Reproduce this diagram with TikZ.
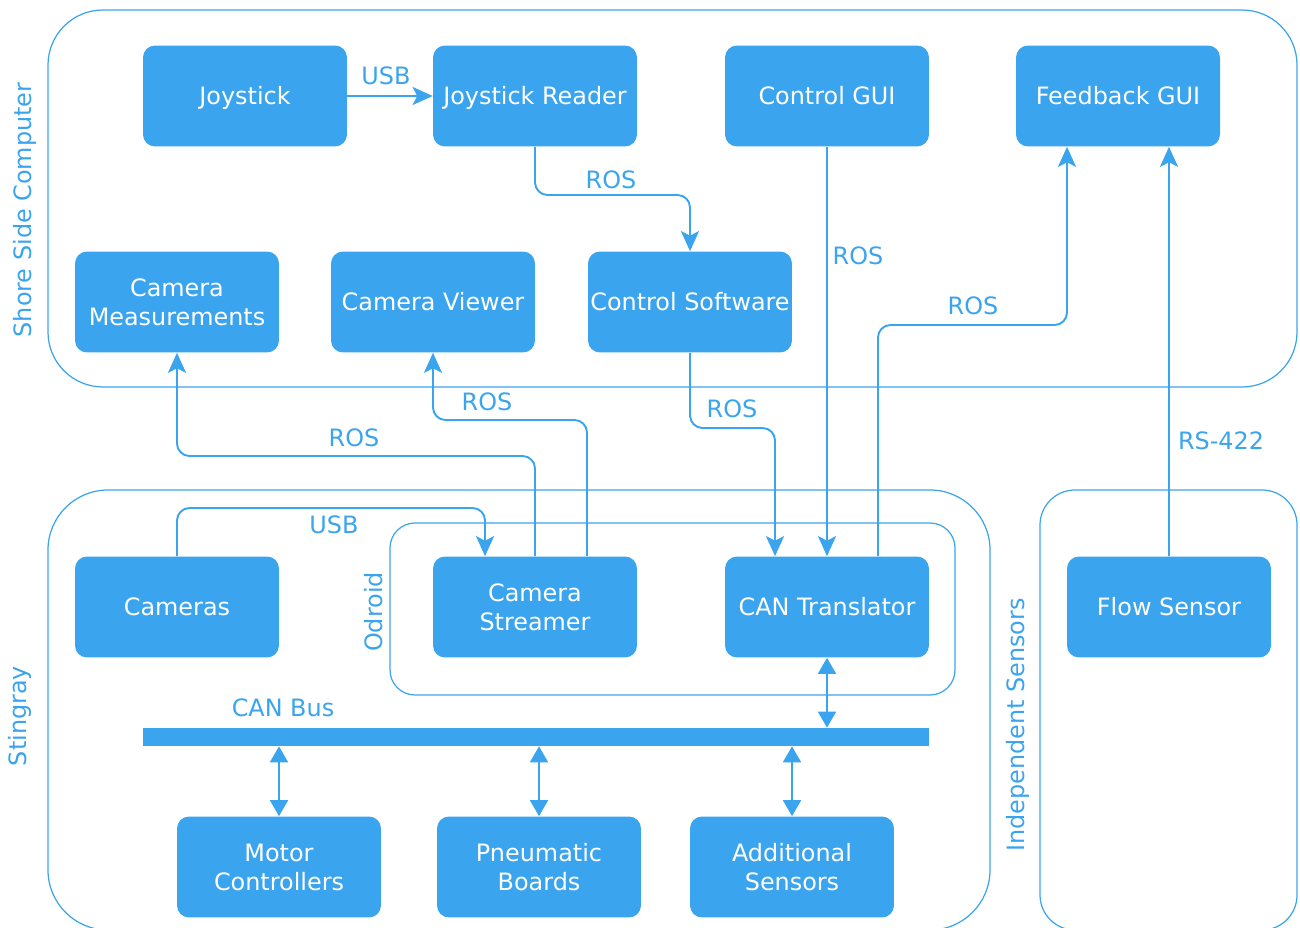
\documentclass[tikz,border=0pt]{standalone}
\usepackage{fontspec}
\setmainfont{DejaVu Sans}
\usetikzlibrary{arrows.meta}
\definecolor{sblue}{HTML}{3BA4EE}

\begin{document}
\begin{tikzpicture}[x=0.02cm,y=-0.02cm,
	box/.style={fill=sblue,text=white,rounded corners=0.24cm,minimum width=4.08cm,minimum height=2.02cm,align=center,inner sep=0pt,font=\fontsize{13.6}{16.5}\selectfont},
	box1/.style={box,text height=0.92em,text depth=0pt},
	grp/.style={draw=sblue,line width=0.7pt},
	conn/.style={draw=sblue,line width=1.1pt,rounded corners=0.25cm,-{Stealth[length=0.4cm,width=0.36cm,inset=0.09cm]}},
	both/.style={draw=sblue,line width=1.1pt,{Triangle[length=0.32cm,width=0.36cm]}-{Triangle[length=0.32cm,width=0.36cm]}},
	lbl/.style={text=sblue,font=\fontsize{13.6}{16.5}\selectfont}]
			\useasboundingbox (0,0) rectangle (1300,928);
			% groups
			\draw[grp,rounded corners=1.1cm] (48,10) rectangle (1297,387);
			\draw[grp,rounded corners=1.2cm] (48,490) rectangle (990,930);
			\draw[grp,rounded corners=0.7cm] (1040,490) rectangle (1297,930);
			\draw[grp,rounded corners=0.5cm] (390,523) rectangle (955,695);
			\node[lbl,rotate=90] (shore) at (25,210) {Shore Side Computer};
			\node[lbl,rotate=90] (sting) at (20,716) {Stingray};
			\node[lbl,rotate=90] (odroid) at (374,612) {Odroid};
			\node[lbl,rotate=90] (indep) at (1018,725) {Independent Sensors};
			% boxes
			\node[box1] (joy) at (245,96) {Joystick};
			\node[box1] (jr) at (535,96) {Joystick Reader};
			\node[box1] (cgui) at (827,96) {Control GUI};
			\node[box1] (fgui) at (1118,96) {Feedback GUI};
			\node[box] (meas) at (177,302) {Camera\\Measurements};
			\node[box1] (view) at (433,302) {Camera Viewer};
			\node[box1] (csw) at (690,302) {Control Software};
			\node[box1] (cams) at (177,607) {Cameras};
			\node[box] (strm) at (535,607) {Camera\\Streamer};
			\node[box1] (trans) at (827,607) {CAN Translator};
			\node[box1] (flow) at (1169,607) {Flow Sensor};
			\node[fill=sblue,minimum width=15.72cm,minimum height=0.36cm,inner sep=0] (bus) at (536,737) {};
			\node[lbl] (buslbl) at (283,708) {CAN Bus};
			\node[box] (mot) at (279,867) {Motor\\Controllers};
			\node[box] (pneu) at (539,867) {Pneumatic\\Boards};
			\node[box] (add) at (792,867) {Additional\\Sensors};
			% bends
			\coordinate (b1) at (611,195);
			\coordinate (b2) at (966,325);
			\coordinate (b3) at (730,428);
			\coordinate (b4) at (350,456);
			\coordinate (b5) at (500,420);
			\coordinate (b6) at (330,508);
			% connectors
			\draw[conn] (joy) -- (jr);
			\node[lbl] at (386,76) {USB};
			\draw[conn] (jr.south) |- (b1) -| (csw.north);
			\node[lbl] at (611,180) {ROS};
			\draw[conn] (cgui.south) -- (trans.north);
			\node[lbl] at (858,256) {ROS};
			\draw[conn] ([xshift=1.02cm]trans.north) |- (b2) -| ([xshift=-1.02cm]fgui.south);
			\node[lbl] at (973,306) {ROS};
			\draw[conn] (flow.north) -- ([xshift=1.02cm]fgui.south);
			\node[lbl] at (1221,441) {RS-422};
			\draw[conn] (csw.south) |- (b3) -| ([xshift=-1.04cm]trans.north);
			\node[lbl] at (732,409) {ROS};
			\draw[conn] (strm.north) |- (b4) -| (meas.south);
			\node[lbl] at (354,438) {ROS};
			\draw[conn] ([xshift=1.04cm]strm.north) |- (b5) -| (view.south);
			\node[lbl] at (487,402) {ROS};
			\draw[conn] (cams.north) |- (b6) -| ([xshift=-1.0cm]strm.north);
			\node[lbl] at (334,525) {USB};
			% bus links
			\draw[both] (trans.south) -- (trans.south |- bus.north);
			\draw[both] (mot.north) -- (mot.north |- bus.south);
			\draw[both] (pneu.north) -- (pneu.north |- bus.south);
			\draw[both] (add.north) -- (add.north |- bus.south);
		\end{tikzpicture}
\end{document}
